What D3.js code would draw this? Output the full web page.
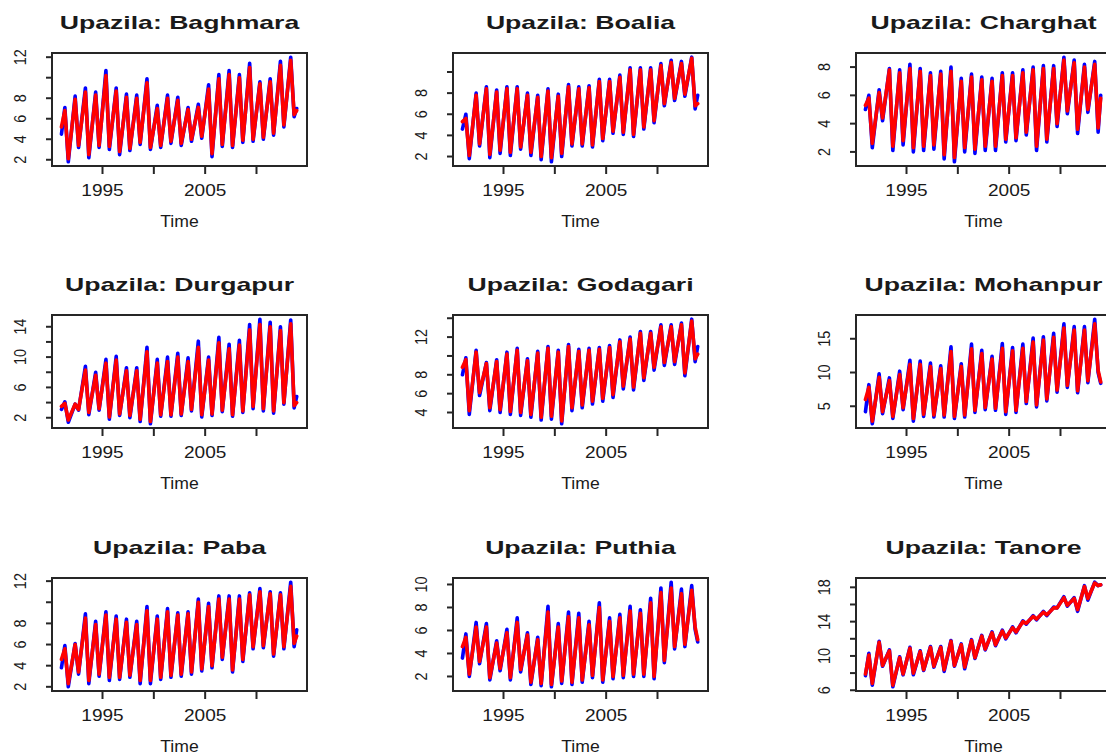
<!DOCTYPE html>
<html>
<head>
<meta charset="utf-8">
<script src="https://cdn.jsdelivr.net/npm/d3@7"></script>
<style>
  body { margin: 0; background: #fff; }
  svg { display: block; }
  text { font-family: "Liberation Sans", Arial, sans-serif; fill: #1a1a1a; }
</style>
</head>
<body>
<div id="chart"></div>
<script>
// Data: groundwater depth per upazila, yearly peaks (dry season) and troughs (post-monsoon)
// each series = [start (Jan 1991), peak 1991, trough 1991, ..., peak 2013, trough 2013, end (Dec 2013)]
const years = [1991, 1992, 1993, 1994, 1995, 1996, 1997, 1998, 1999, 2000, 2001, 2002,
    2003, 2004, 2005, 2006, 2007, 2008, 2009, 2010, 2011, 2012, 2013];

const upazilas = ["Baghmara", "Boalia", "Charghat", "Durgapur", "Godagari", "Mohanpur", "Paba", "Puthia", "Tanore"];

const baghmaraObs = [4.5, 7.1, 1.8, 8.2, 3.2, 9.0, 2.2, 8.6, 3.2, 10.7, 3.0, 9.0, 2.5, 8.4, 2.9, 8.3, 3.5, 9.9, 3.0, 7.3, 3.2,
    8.3, 3.6, 8.1, 3.4, 7.1, 3.8, 7.4, 4.1, 9.3, 2.3, 10.3, 3.3, 10.7, 3.2, 10.3, 3.7, 11.4, 3.8, 9.6, 4.0,
    9.9, 4.4, 11.6, 5.2, 12.0, 6.2, 7.0];
const baghmaraFit = [5.2, 6.8, 2.1, 7.9, 3.4, 8.6, 2.5, 8.3, 3.4, 10.2, 3.3, 8.7, 2.8, 8.1, 3.1, 8.0, 3.7, 9.5, 3.2, 7.0, 3.4,
    8.0, 3.8, 7.8, 3.6, 6.9, 4.0, 7.1, 4.3, 8.9, 2.6, 9.9, 3.5, 10.3, 3.4, 10.0, 3.9, 11.0, 4.0, 9.4, 4.2,
    9.6, 4.6, 11.2, 5.4, 11.7, 6.4, 6.8];

const boaliaObs = [4.6, 6.0, 1.8, 8.0, 3.0, 8.6, 1.9, 8.3, 2.3, 8.6, 2.1, 8.6, 2.7, 8.0, 2.1, 7.8, 1.7, 8.4, 1.5, 7.9, 2.0,
    8.8, 3.0, 8.6, 3.0, 8.7, 2.9, 9.3, 3.5, 9.3, 4.2, 9.7, 4.1, 10.4, 3.9, 10.4, 4.6, 10.4, 5.2, 10.8, 6.8,
    11.1, 7.3, 11.0, 7.7, 11.4, 6.5, 7.8];
const boaliaFit = [5.3, 5.6, 2.1, 7.8, 3.2, 8.4, 2.2, 8.1, 2.6, 8.4, 2.4, 8.4, 2.9, 7.8, 2.4, 7.6, 2.0, 8.2, 1.9, 7.7, 2.3,
    8.6, 3.2, 8.4, 3.2, 8.5, 3.1, 9.1, 3.7, 9.1, 4.4, 9.5, 4.3, 10.2, 4.1, 10.2, 4.8, 10.2, 5.4, 10.6, 7.0,
    10.9, 7.5, 10.8, 7.9, 11.3, 6.8, 7.0];

const charghatObs = [5.0, 6.0, 2.3, 6.4, 4.2, 7.9, 2.1, 7.8, 2.5, 8.2, 2.0, 7.9, 2.1, 7.6, 2.2, 7.7, 1.5, 8.0, 1.3, 7.2, 2.0,
    7.5, 1.9, 7.3, 2.1, 7.2, 2.1, 7.6, 2.7, 7.6, 2.8, 7.8, 3.2, 8.0, 2.1, 8.1, 2.7, 8.1, 3.8, 8.7, 4.7,
    8.5, 3.3, 8.2, 4.8, 8.4, 3.4, 6.0];
const charghatFit = [5.3, 5.8, 2.6, 6.2, 4.4, 7.8, 2.4, 7.6, 2.8, 7.9, 2.3, 7.7, 2.4, 7.4, 2.5, 7.5, 1.8, 7.7, 1.6, 7.0, 2.3,
    7.3, 2.2, 7.1, 2.4, 7.0, 2.4, 7.4, 2.9, 7.4, 3.0, 7.6, 3.4, 7.8, 2.4, 7.9, 2.9, 7.9, 4.0, 8.5, 4.9,
    8.3, 3.6, 8.0, 5.0, 8.2, 3.7, 5.8];

const durgapurObs = [3.1, 4.1, 1.4, 3.8, 3.0, 8.8, 2.4, 8.0, 3.0, 9.7, 1.8, 10.1, 2.3, 8.6, 2.0, 8.6, 1.5, 11.3, 1.2, 9.7, 2.2,
    10.0, 2.2, 10.5, 2.3, 9.9, 2.9, 12.1, 2.1, 10.0, 2.3, 12.6, 2.8, 11.7, 2.2, 12.2, 2.7, 14.3, 3.2, 15.0, 2.9,
    14.6, 2.6, 14.0, 3.8, 14.9, 3.3, 4.8];
const durgapurFit = [3.5, 3.9, 1.7, 3.8, 3.1, 8.3, 2.7, 7.6, 3.2, 9.2, 2.1, 9.6, 2.5, 8.2, 2.3, 8.2, 1.8, 10.7, 1.5, 9.2, 2.4,
    9.4, 2.4, 10.0, 2.5, 9.4, 3.1, 11.3, 2.4, 9.6, 2.5, 11.9, 3.0, 11.1, 2.4, 11.6, 2.9, 13.6, 3.5, 14.3, 3.2,
    14.0, 2.9, 13.5, 4.0, 14.4, 3.6, 4.0];

const godagariObs = [8.0, 9.8, 3.8, 10.6, 5.8, 9.3, 4.2, 9.6, 4.0, 10.4, 3.8, 10.8, 3.7, 9.7, 3.5, 10.5, 3.2, 11.0, 3.3, 10.6, 2.8,
    11.2, 4.2, 10.7, 4.5, 10.8, 4.9, 10.9, 5.2, 11.1, 5.6, 11.7, 6.5, 12.0, 6.4, 12.6, 7.4, 12.6, 8.5, 13.3, 9.0,
    13.3, 9.1, 13.5, 7.9, 13.9, 9.4, 11.0];
const godagariFit = [8.8, 9.6, 4.2, 10.4, 6.1, 9.2, 4.5, 9.4, 4.3, 10.2, 4.1, 10.6, 4.0, 9.5, 3.8, 10.3, 3.5, 10.8, 3.6, 10.4, 3.1,
    11.0, 4.5, 10.5, 4.8, 10.6, 5.2, 10.7, 5.5, 10.9, 5.9, 11.5, 6.8, 11.8, 6.7, 12.4, 7.7, 12.4, 8.8, 13.1, 9.3,
    13.1, 9.4, 13.3, 8.2, 13.7, 9.7, 10.2];

const mohanpurObs = [4.2, 8.2, 2.4, 9.8, 3.9, 9.2, 3.2, 10.2, 4.5, 11.8, 2.8, 11.7, 3.5, 11.4, 3.4, 11.0, 3.4, 13.8, 3.2, 11.3, 3.4,
    14.2, 4.1, 13.3, 4.5, 12.4, 4.4, 14.3, 3.8, 13.7, 4.1, 14.2, 5.4, 15.1, 4.9, 15.3, 5.8, 15.8, 7.1, 17.2, 7.8,
    16.8, 7.0, 16.8, 8.5, 17.9, 10.0, 8.4];
const mohanpurFit = [6.0, 7.8, 2.8, 9.3, 4.2, 8.8, 3.5, 9.7, 4.8, 11.2, 3.2, 11.2, 3.8, 10.9, 3.7, 10.6, 3.7, 13.1, 3.5, 10.9, 3.7,
    13.5, 4.4, 12.8, 4.8, 12.0, 4.7, 13.6, 4.2, 13.2, 4.4, 13.6, 5.7, 14.5, 5.2, 14.8, 6.1, 15.2, 7.4, 16.6, 8.1,
    16.3, 7.3, 16.3, 8.8, 17.2, 10.3, 8.6];

const pabaObs = [3.8, 5.9, 2.0, 6.1, 3.2, 8.9, 2.3, 8.2, 3.0, 9.1, 2.6, 8.7, 2.7, 8.4, 2.9, 8.2, 2.3, 9.6, 2.3, 8.7, 2.7,
    9.4, 2.9, 9.0, 3.0, 9.1, 3.2, 10.3, 3.5, 9.9, 3.8, 10.6, 4.6, 10.6, 3.4, 10.6, 4.4, 10.9, 5.6, 11.3, 5.7,
    11.0, 4.9, 10.9, 5.6, 11.9, 5.8, 7.4];
const pabaFit = [4.6, 5.6, 2.3, 6.0, 3.4, 8.5, 2.6, 7.9, 3.2, 8.8, 2.9, 8.4, 2.9, 8.1, 3.1, 7.9, 2.6, 9.2, 2.6, 8.4, 2.9,
    9.1, 3.1, 8.8, 3.2, 8.9, 3.4, 10.0, 3.7, 9.6, 4.0, 10.3, 4.8, 10.3, 3.6, 10.3, 4.6, 10.7, 5.8, 11.0, 5.9,
    10.8, 5.1, 10.7, 5.8, 11.5, 6.1, 6.8];

const puthiaObs = [3.6, 5.7, 2.0, 6.7, 3.1, 6.6, 1.7, 5.1, 2.5, 6.1, 1.7, 7.1, 2.4, 5.8, 1.3, 5.4, 1.2, 8.1, 1.1, 6.6, 1.4,
    7.6, 1.3, 7.5, 1.5, 6.8, 1.9, 8.4, 1.5, 7.1, 1.8, 7.4, 1.9, 8.1, 2.0, 7.8, 2.0, 8.8, 1.8, 9.7, 3.2,
    10.2, 4.4, 9.6, 4.6, 9.9, 6.1, 5.0];
const puthiaFit = [4.6, 5.4, 2.2, 6.3, 3.3, 6.3, 1.9, 4.9, 2.7, 5.8, 1.9, 6.7, 2.6, 5.6, 1.5, 5.2, 1.4, 7.6, 1.3, 6.3, 1.6,
    7.2, 1.5, 7.1, 1.7, 6.5, 2.1, 8.0, 1.7, 6.8, 2.0, 7.1, 2.1, 7.7, 2.2, 7.5, 2.2, 8.4, 2.0, 9.3, 3.4,
    9.7, 4.6, 9.2, 4.8, 9.5, 6.3, 5.2];

const tanoreObs = [7.7, 10.3, 6.6, 11.7, 8.8, 10.7, 6.4, 9.9, 7.8, 11.0, 7.8, 10.6, 8.3, 11.1, 8.7, 11.1, 8.2, 11.8, 8.8, 11.4, 8.5,
    11.9, 9.7, 12.4, 10.7, 12.8, 11.2, 13.0, 12.0, 13.4, 12.7, 14.1, 13.7, 14.7, 14.2, 15.2, 14.7, 15.7, 15.6, 16.9, 15.8,
    16.8, 15.2, 18.2, 16.5, 18.6, 18.2, 18.3];
const tanoreFit = [7.9, 10.1, 6.8, 11.6, 8.9, 10.6, 6.6, 9.8, 7.9, 10.9, 8.0, 10.5, 8.4, 11.0, 8.8, 11.0, 8.4, 11.7, 8.9, 11.3, 8.7,
    11.8, 9.8, 12.3, 10.8, 12.7, 11.3, 12.9, 12.1, 13.3, 12.8, 14.0, 13.8, 14.6, 14.3, 15.1, 14.8, 15.6, 15.6, 16.8, 15.9,
    16.7, 15.4, 18.1, 16.7, 18.5, 18.2, 18.3];

// y ticks and the labels R kept (overlapping ones were dropped)
const yTicks = [[2, 4, 6, 8, 10, 12], [2, 4, 6, 8, 10], [2, 4, 6, 8],
    [2, 4, 6, 8, 10, 12, 14], [4, 6, 8, 10, 12, 14], [5, 10, 15],
    [2, 4, 6, 8, 10, 12], [2, 4, 6, 8, 10], [6, 8, 10, 12, 14, 16, 18]];
const yLabels = [[2, 4, 6, 8, 12], [2, 4, 6, 8], [2, 4, 6, 8],
    [2, 6, 10, 14], [4, 6, 8, 12], [5, 10, 15],
    [2, 4, 6, 8, 12], [2, 4, 6, 8, 10], [6, 10, 14, 18]];
const xTicks = [1995, 2000, 2005, 2010];
const xLabels = [1995, 2005];

const obsSeries = [baghmaraObs, boaliaObs, charghatObs, durgapurObs, godagariObs, mohanpurObs, pabaObs, puthiaObs, tanoreObs];
const fitSeries = [baghmaraFit, boaliaFit, charghatFit, durgapurFit, godagariFit, mohanpurFit, pabaFit, puthiaFit, tanoreFit];

// Layout
const width = 1106, height = 756;
const colLeft = [52, 453, 856], rowTop = [53, 315, 578];
const plotW = 255, plotH = 113;

// time stamps: Jan start, May peak, Sep trough, Dec end
const times = [years[0]];
years.forEach(y => { times.push(y + 4 / 12, y + 8 / 12); });
times.push(years[years.length - 1] + 11 / 12);

const svg = d3.select("#chart").append("svg")
    .attr("width", width)
    .attr("height", height);
svg.append("rect").attr("width", width).attr("height", height).attr("fill", "#fff");

function stretch(sel, factor) {
    sel.each(function() {
        const n = this.getComputedTextLength();
        d3.select(this).attr("textLength", n * factor).attr("lengthAdjust", "spacingAndGlyphs");
    });
}

function padExtent(ext) {
    const pad = (ext[1] - ext[0]) * 0.04;
    return [ext[0] - pad, ext[1] + pad];
}

upazilas.forEach((name, i) => {
    const col = i % 3, row = Math.floor(i / 3);
    const g = svg.append("g").attr("transform", `translate(${colLeft[col]},${rowTop[row]})`);

    const x = d3.scaleLinear()
        .domain(padExtent([years[0], years[years.length - 1] + 1]))
        .range([0, plotW]);
    const y = d3.scaleLinear()
        .domain(padExtent(d3.extent(obsSeries[i].concat(fitSeries[i]))))
        .range([plotH, 0]);

    const line = d3.line()
        .x((d, j) => x(times[j]))
        .y(d => y(d));

    g.append("path")
        .attr("d", line(obsSeries[i]))
        .attr("fill", "none")
        .attr("stroke", "#0000ff")
        .attr("stroke-width", 3.6)
        .attr("stroke-linejoin", "round")
        .attr("stroke-linecap", "round");

    g.append("path")
        .attr("d", line(fitSeries[i]))
        .attr("fill", "none")
        .attr("stroke", "#ff0000")
        .attr("stroke-width", 3.6)
        .attr("stroke-linejoin", "round")
        .attr("stroke-linecap", "round");

    // box
    g.append("rect")
        .attr("width", plotW)
        .attr("height", plotH)
        .attr("fill", "none")
        .attr("stroke", "#262626")
        .attr("stroke-width", 2);

    // x axis ticks
    g.selectAll(".xt").data(xTicks).join("line")
        .attr("x1", d => x(d)).attr("x2", d => x(d))
        .attr("y1", plotH).attr("y2", plotH + 8)
        .attr("stroke", "#262626").attr("stroke-width", 2);
    g.selectAll(".xl").data(xLabels).join("text")
        .attr("x", d => x(d))
        .attr("y", plotH + 30)
        .attr("text-anchor", "middle")
        .style("font-size", "17px")
        .text(d => d)
        .call(stretch, 1.12);

    // y axis ticks
    g.selectAll(".yt").data(yTicks[i]).join("line")
        .attr("x1", -6).attr("x2", 0)
        .attr("y1", d => y(d)).attr("y2", d => y(d))
        .attr("stroke", "#262626").attr("stroke-width", 2);
    g.selectAll(".yl").data(yLabels[i]).join("text")
        .attr("transform", d => `translate(-26,${y(d)}) rotate(-90)`)
        .attr("text-anchor", "middle")
        .style("font-size", "16px")
        .text(d => d)
        .call(stretch, 0.9);

    // titles
    g.append("text")
        .attr("x", plotW / 2)
        .attr("y", -24)
        .attr("text-anchor", "middle")
        .style("font-size", "19px")
        .style("font-weight", "bold")
        .text(`Upazila: ${name}`)
        .call(stretch, 1.4);

    g.append("text")
        .attr("x", plotW / 2)
        .attr("y", plotH + 61)
        .attr("text-anchor", "middle")
        .style("font-size", "16px")
        .text("Time")
        .call(stretch, 1.1);
});
</script>
</body>
</html>
